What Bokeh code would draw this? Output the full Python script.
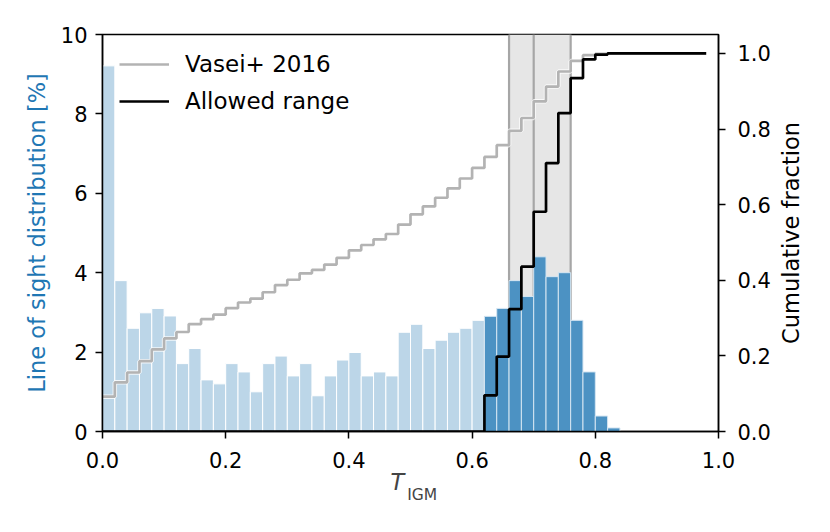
import math
import numpy as np
from bokeh.plotting import figure
from bokeh.models import (Range1d, LinearAxis, FixedTicker, PrintfTickFormatter,
                          BoxAnnotation, Span, Legend, LegendItem, Label)
from bokeh.embed import file_html
from bokeh.resources import INLINE

# ---------------- data ----------------
bin_width = 0.02
# line-of-sight distribution per T_IGM bin [%], bins 0.00-0.02 ... 0.98-1.00
los_percent = [9.21, 3.80, 2.60, 2.99, 3.10, 2.91, 1.71, 2.09, 1.30, 1.20,
               1.71, 1.50, 1.00, 1.71, 1.90, 1.40, 1.71, 0.90, 1.40, 1.80,
               1.99, 1.40, 1.50, 1.40, 2.50, 2.70, 2.09, 2.30, 2.50, 2.60,
               2.80, 2.90, 3.10, 3.80, 3.40, 4.40, 3.90, 4.00, 2.80, 1.50,
               0.39, 0.09, 0.0, 0.0, 0.0, 0.0, 0.0, 0.0, 0.0, 0.0]
allowed_min = 0.62           # lower bound of the allowed T_IGM range
vasei_T = [0.66, 0.70, 0.76]  # Vasei+ 2016: low, central, high
x_ticks = [0.0, 0.2, 0.4, 0.6, 0.8, 1.0]
y_ticks = [0, 2, 4, 6, 8, 10]
cum_ticks = [0.0, 0.2, 0.4, 0.6, 0.8, 1.0]

# ---------------- derived ----------------
vals = np.array(los_percent)
left = np.round(np.arange(len(vals)) * bin_width, 4)
right = left + bin_width
allowed = left >= allowed_min - 1e-9
cum_all = np.cumsum(vals) / vals.sum()
allowed_vals = np.where(allowed, vals, 0.0)
cum_allowed = np.cumsum(allowed_vals) / allowed_vals.sum()
nz = vals > 0

FONT = "DejaVu Sans"

p = figure(width=822, height=524, x_range=Range1d(0, 1), y_range=Range1d(0, 10),
           output_backend="svg", toolbar_location=None,
           min_border_left=102, min_border_right=104, min_border_top=34, min_border_bottom=93)
p.extra_y_ranges = {"cum": Range1d(0, 1.05)}
p.grid.visible = False
p.outline_line_color = "black"
p.outline_line_width = 1.5
p.background_fill_color = "white"

# Vasei band
band = BoxAnnotation(left=vasei_T[0], right=vasei_T[2], fill_color="#e6e6e6",
                     fill_alpha=1.0, line_color=None, level="underlay")
p.add_layout(band)
for loc in vasei_T:
    p.add_layout(Span(location=loc, dimension="height", line_color="#a6a6a6",
                      line_width=2.2, level="underlay"))

# histogram bars
m_light = (~allowed) & nz
m_dark = allowed & nz
p.quad(left=left[m_light], right=right[m_light], bottom=0, top=vals[m_light],
       fill_color="#bcd6e8", line_color="white", line_width=1)
p.quad(left=left[m_dark], right=right[m_dark], bottom=0, top=vals[m_dark],
       fill_color="#4c92c3", line_color="#d6e6f2", line_width=1)

# cumulative lines
p.step(x=left, y=cum_all, mode="after", y_range_name="cum",
       line_color="white", line_width=4.5, line_alpha=0.8)
gray_r = p.step(x=left, y=cum_all, mode="after", y_range_name="cum",
                line_color="#b3b3b3", line_width=2.7)
black_r = p.step(x=left, y=cum_allowed, mode="after", y_range_name="cum",
                 line_color="black", line_width=2.7)

# axes styling
def style_axis(ax):
    ax.major_tick_out = 7
    ax.major_tick_in = 0
    ax.minor_tick_out = 0
    ax.minor_tick_in = 0
    ax.major_tick_line_width = 1.5
    ax.axis_line_width = 1.5
    ax.major_label_text_font = FONT
    ax.major_label_text_font_size = "21px"
    ax.major_label_text_color = "black"
    ax.axis_label_text_font = FONT
    ax.axis_label_text_font_size = "22.5px"
    ax.axis_label_text_font_style = "normal"
    ax.axis_label_text_color = "black"

xa = p.xaxis[0]
style_axis(xa)
xa.ticker = FixedTicker(ticks=x_ticks)
xa.formatter = PrintfTickFormatter(format="%.1f")
xa.major_label_standoff = 13

ya = p.yaxis[0]
style_axis(ya)
ya.ticker = FixedTicker(ticks=y_ticks)
ya.formatter = PrintfTickFormatter(format="%d")
ya.axis_label = "Line of sight distribution [%]"
ya.axis_label_text_color = "#1f77b4"
ya.axis_label_standoff = 8
ya.major_label_standoff = 8

ra = LinearAxis(y_range_name="cum")
style_axis(ra)
ra.ticker = FixedTicker(ticks=cum_ticks)
ra.formatter = PrintfTickFormatter(format="%.1f")
ra.major_label_standoff = 12
p.add_layout(ra, "right")

# right-hand axis title, reading bottom-to-top, centred on the frame
p.add_layout(Label(x=17, y=5, x_units="screen", text="Cumulative fraction",
                   angle=math.pi / 2, text_font=FONT, text_font_size="22.5px",
                   text_color="black", text_align="center", text_baseline="middle"),
             "right")

# x-axis label T_IGM (placed in the below panel so it is not clipped to the frame)
p.add_layout(Label(x=0.4675, y=15, y_units="screen", text="T", text_font=FONT,
                   text_font_size="22.5px", text_font_style="italic",
                   text_baseline="alphabetic", text_align="left"), "below")
p.add_layout(Label(x=0.4946, y=20, y_units="screen", text="IGM", text_font=FONT,
                   text_font_size="15.5px", text_baseline="alphabetic",
                   text_align="left"), "below")

legend = Legend(items=[LegendItem(label="Vasei+ 2016", renderers=[gray_r]),
                       LegendItem(label="Allowed range", renderers=[black_r])],
                location="top_left", margin=17, padding=10,
                glyph_width=50, glyph_height=20, label_height=20, spacing=11,
                label_standoff=16, label_text_font=FONT, label_text_font_size="23px",
                label_text_color="black",
                background_fill_alpha=0, border_line_color=None)
p.add_layout(legend)

open("out.html", "w").write(file_html(p, INLINE))
